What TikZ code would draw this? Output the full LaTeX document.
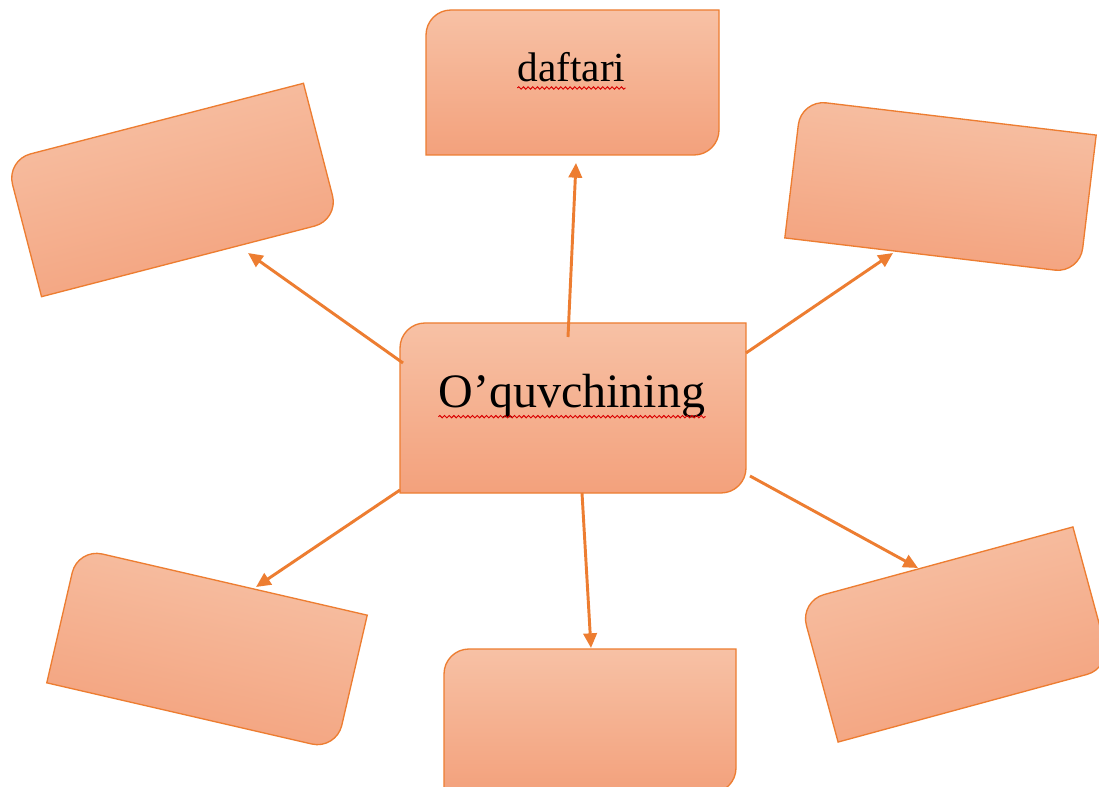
\documentclass[tikz,border=0pt]{standalone}
\usepackage{fontspec}
\setmainfont{Liberation Serif}
\usetikzlibrary{arrows.meta,decorations.pathmorphing}
\definecolor{edge}{RGB}{237,125,49}
\definecolor{filltop}{RGB}{247,193,165}
\definecolor{fillbot}{RGB}{243,161,124}
\def\crad{25}
\newcommand{\orgbox}[6]{% name, x, y(down), w, h, angle
  \begin{scope}[shift={(#2,-#3)}, rotate=#6]
    \shadedraw[boxshade, shading angle=#6]
      (-#4/2+\crad, #5/2) -- (#4/2, #5/2) -- (#4/2, -#5/2+\crad)
      arc[start angle=0, end angle=-90, radius=\crad]
      -- (-#4/2, -#5/2) -- (-#4/2, #5/2-\crad)
      arc[start angle=180, end angle=90, radius=\crad] -- cycle;
  \end{scope}
  \node[boxnode, rotate=#6, minimum width=#4*0.75pt, minimum height=#5*0.75pt] (#1) at (#2,-#3) {};
}
\tikzset{
  boxshade/.style={draw=edge, line width=1pt, top color=filltop, bottom color=fillbot},
  boxnode/.style={draw=none, fill=none, inner sep=0pt},
  arr/.style={draw=edge, line width=2.2pt, -{Triangle[length=11pt,width=10pt]}},
  wavy/.style={draw=red!85!black, line width=0.7pt, decorate, decoration={snake, amplitude=0.9pt, segment length=3.5pt}},
  lbl/.style={anchor=base, inner sep=0pt, text=black}
}
\begin{document}
\begin{tikzpicture}[x=0.75pt, y=0.75pt]
  \useasboundingbox (0,0) rectangle (1099,-787);
  \clip (0,0) rectangle (1099,-787);
  \fill[white] (0,0) rectangle (1099,-787);

  % boxes
  \orgbox{top}{572.5}{82.5}{293}{145}{0}
  \orgbox{ul}{172.5}{190}{307}{141}{14.5}
  \orgbox{ur}{940.5}{186.5}{297}{139}{-6.8}
  \orgbox{ll}{207}{649}{297}{138}{-13}
  \orgbox{lr}{955.5}{634.5}{283}{146}{15.2}
  \orgbox{bot}{590}{721}{292}{144}{0}
  \orgbox{ctr}{573}{408}{346}{170}{0}

  % labels
  \node[lbl, font=\fontsize{36pt}{40pt}\selectfont] (ctext) at (572,-408) {O’quvchining};
  \node[lbl, font=\fontsize{31pt}{35pt}\selectfont] (ttext) at (571.5,-82) {daftari};
  \draw[wavy] ([yshift=-6.5pt]ctext.base west) -- ([yshift=-6.5pt]ctext.base east);
  \draw[wavy] ([yshift=-4.5pt]ttext.base west) -- ([yshift=-4.5pt]ttext.base east);

  % connector end points
  \coordinate (sTop) at (568,-337);  \coordinate (eTop) at (576,-163);
  \coordinate (sUL) at (403,-363);   \coordinate (eUL) at (248,-253);
  \coordinate (sUR) at (746,-353);   \coordinate (eUR) at (893,-253);
  \coordinate (sLL) at (400,-490);   \coordinate (eLL) at (256,-587);
  \coordinate (sLR) at (750,-476);   \coordinate (eLR) at (918,-568);
  \coordinate (sBot) at (582,-493);  \coordinate (eBot) at (591,-648);

  % connectors
  \draw[arr] (sTop) -- (eTop);
  \draw[arr] (sUL) -- (eUL);
  \draw[arr] (sUR) -- (eUR);
  \draw[arr] (sLL) -- (eLL);
  \draw[arr] (sLR) -- (eLR);
  \draw[arr] (sBot) -- (eBot);
\end{tikzpicture}
\end{document}
